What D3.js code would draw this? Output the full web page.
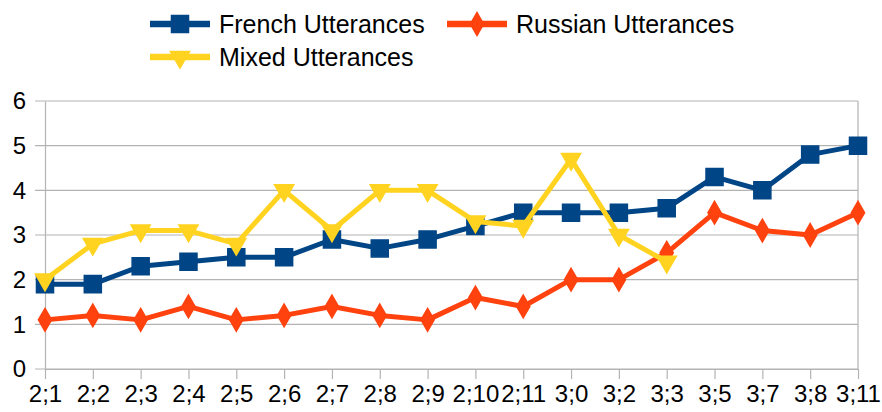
<!DOCTYPE html>
<html>
<head>
<meta charset="utf-8">
<script src="https://cdn.jsdelivr.net/npm/d3@7"></script>
<style>
    body { margin: 0; background: #fff; }
    text { font-family: "Liberation Sans", Arial, sans-serif; fill: #000; }
</style>
</head>
<body>
<div id="chart"></div>
<script>
// ages (year;month)
var ages = ["2;1", "2;2", "2;3", "2;4", "2;5", "2;6", "2;7", "2;8", "2;9", "2;10",
    "2;11", "3;0", "3;2", "3;3", "3;5", "3;7", "3;8", "3;11"];

var french = [1.9, 1.9, 2.3, 2.4, 2.5, 2.5, 2.9, 2.7, 2.9, 3.2, 3.5, 3.5, 3.5, 3.6, 4.3, 4.0, 4.8, 5.0];
var russian = [1.1, 1.2, 1.1, 1.4, 1.1, 1.2, 1.4, 1.2, 1.1, 1.6, 1.4, 2.0, 2.0, 2.6, 3.5, 3.1, 3.0, 3.5];
var mixed = [2.0, 2.8, 3.1, 3.1, 2.8, 4.0, 3.1, 4.0, 4.0, 3.3, 3.2, 4.7, 3.0, 2.4, null, null, null, null];

var yTicks = [0, 1, 2, 3, 4, 5, 6];

var seriesNames = ["French Utterances", "Russian Utterances", "Mixed Utterances"];
var seriesColors = ["#004586", "#ff420e", "#ffd320"];
var seriesSymbols = [d3.symbolSquare, d3.symbolDiamond, d3.symbolTriangle];

var series = [french, russian, mixed].map(function (vals, i) {
    return {
        name: seriesNames[i],
        color: seriesColors[i],
        symbol: seriesSymbols[i],
        values: vals.map(function (v, j) { return { age: ages[j], v: v }; })
    };
});

var width = 882, height = 412;
var margin = { top: 101, right: 24, bottom: 43, left: 45 };
var innerW = width - margin.left - margin.right;
var innerH = height - margin.top - margin.bottom;

var svg = d3.select("#chart").append("svg")
    .attr("width", width)
    .attr("height", height);

var g = svg.append("g")
    .attr("transform", "translate(" + margin.left + "," + margin.top + ")");

var x = d3.scalePoint()
    .domain(ages)
    .range([0, innerW]);

var y = d3.scaleLinear()
    .domain([0, 6])
    .range([innerH, 0]);

// grid lines
g.append("g")
    .selectAll("line")
    .data(yTicks)
    .enter()
    .append("line")
    .attr("x1", -10)
    .attr("x2", innerW)
    .attr("y1", function (d) { return y(d); })
    .attr("y2", function (d) { return y(d); })
    .attr("stroke", "#b3b3b3")
    .attr("stroke-width", 1.2);

// right border
g.append("line")
    .attr("x1", innerW).attr("x2", innerW)
    .attr("y1", 0).attr("y2", innerH)
    .attr("stroke", "#b3b3b3")
    .attr("stroke-width", 1.2);

// y axis
var yAxis = g.append("g")
    .call(d3.axisLeft(y).tickValues(yTicks).tickFormat(d3.format("d")).tickSize(0).tickPadding(19));
yAxis.select(".domain").attr("stroke", "#b3b3b3").attr("stroke-width", 1.2);
yAxis.selectAll("text").style("font-size", "24px");

// x axis
var xAxis = g.append("g")
    .attr("transform", "translate(0," + innerH + ")")
    .call(d3.axisBottom(x).tickSize(10).tickPadding(6).tickSizeOuter(0));
xAxis.select(".domain").attr("stroke", "#b3b3b3").attr("stroke-width", 1.2);
xAxis.selectAll(".tick line").attr("stroke", "#b3b3b3").attr("stroke-width", 1.2);
xAxis.selectAll("text").style("font-size", "24px");

var line = d3.line()
    .defined(function (d) { return d.v !== null; })
    .x(function (d) { return x(d.age); })
    .y(function (d) { return y(d.v); });

function symbolPath(sym) {
    if (sym === d3.symbolTriangle) {
        return d3.symbol().type(sym).size(160)();
    }
    if (sym === d3.symbolDiamond) {
        return d3.symbol().type(sym).size(150)();
    }
    return d3.symbol().type(sym).size(290)();
}

function symbolTransform(sym, px, py) {
    // triangles point down
    if (sym === d3.symbolTriangle) {
        return "translate(" + px + "," + py + ") rotate(180)";
    }
    return "translate(" + px + "," + py + ")";
}

series.forEach(function (s) {
    g.append("path")
        .datum(s.values)
        .attr("d", line)
        .attr("fill", "none")
        .attr("stroke", s.color)
        .attr("stroke-width", 5)
        .attr("stroke-linejoin", "round");

    g.selectAll(null)
        .data(s.values.filter(function (d) { return d.v !== null; }))
        .enter()
        .append("path")
        .attr("d", symbolPath(s.symbol))
        .attr("transform", function (d) { return symbolTransform(s.symbol, x(d.age), y(d.v)); })
        .attr("fill", s.color)
        .attr("stroke", s.color)
        .attr("stroke-width", 1.5);
});

// legend
var legendPos = [
    { x: 150, y: 24 },
    { x: 447, y: 24 },
    { x: 150, y: 57 }
];

var legend = svg.append("g");
series.forEach(function (s, i) {
    var p = legendPos[i];
    var item = legend.append("g").attr("transform", "translate(" + p.x + "," + p.y + ")");
    item.append("line")
        .attr("x1", 0).attr("x2", 60)
        .attr("y1", 0).attr("y2", 0)
        .attr("stroke", s.color)
        .attr("stroke-width", 6.5);
    item.append("path")
        .attr("d", symbolPath(s.symbol))
        .attr("transform", symbolTransform(s.symbol, 30, 0))
        .attr("fill", s.color)
        .attr("stroke", s.color)
        .attr("stroke-width", 1.5);
    item.append("text")
        .attr("x", 69)
        .attr("y", 0)
        .attr("dy", "0.35em")
        .style("font-size", "25px")
        .text(s.name);
});
</script>
</body>
</html>
